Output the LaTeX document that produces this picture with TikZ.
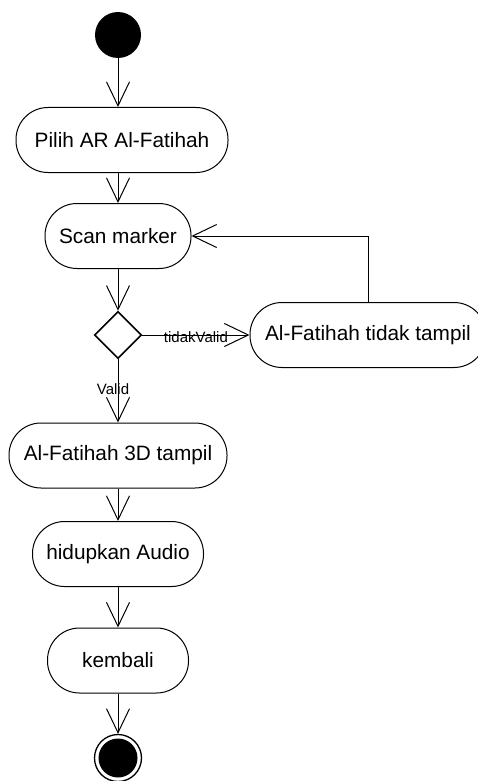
\documentclass[tikz,border=0pt]{standalone}
\usepackage{fontspec}
\setmainfont{Liberation Sans}
\usetikzlibrary{arrows.meta, shapes.geometric}

\begin{document}
\begin{tikzpicture}[x=1pt, y=-1pt, line width=1pt,
  aksi/.style={draw, rectangle, rounded corners=32pt, minimum height=65pt,
    inner sep=0pt, font=\fontsize{20.8}{24}\selectfont},
  alur/.style={-{Straight Barb[length=24pt,width=23pt]}},
  keputusan/.style={draw, diamond, line width=1.6pt, minimum width=47pt,
    minimum height=47pt, inner sep=0pt},
  ket/.style={font=\fontsize{15}{18}\selectfont, inner sep=0pt}
]
\useasboundingbox (0,0) rectangle (477,781);

% Awal
\node[circle, fill, minimum size=46pt, inner sep=0pt] (mulai) at (118,35) {};

% Aktivitas
\node[aksi, minimum width=212pt] (pilih) at (122,140) {Pilih AR Al-Fatihah};
\node[aksi, minimum width=146pt] (scan) at (118,236) {Scan marker};
\node[keputusan] (cek) at (118,335) {};
\node[aksi, minimum width=236pt] (tidak) at (368,335) {Al-Fatihah tidak tampil};
\node[aksi, minimum width=218pt] (tampil) at (118,455.5) {Al-Fatihah 3D tampil};
\node[aksi, minimum width=171pt] (audio) at (118,554) {hidupkan Audio};
\node[aksi, minimum width=141pt] (kembali) at (118,660.5) {kembali};

% Akhir
\node[circle, draw, line width=1.3pt, minimum size=47pt, inner sep=0pt] (selesai) at (118,758) {};
\node[circle, fill, minimum size=39pt, inner sep=0pt] (selesaiIsi) at (selesai) {};

% Alur
\draw[alur] (mulai) -- (mulai |- pilih.north);
\draw[alur] (scan |- pilih.south) -- (scan.north);
\draw[alur] (scan) -- (cek);
\draw[alur] (cek) -- node[ket, yshift=-2pt] {tidakValid} (tidak);
\draw[alur] (cek) -- node[ket, xshift=-5pt, yshift=2pt] {Valid} (tampil);
\draw[alur] (tidak.north) |- (scan.east);
\draw[alur] (tampil) -- (audio);
\draw[alur] (audio) -- (kembali);
\draw[alur] (kembali) -- (selesai);
\end{tikzpicture}
\end{document}
